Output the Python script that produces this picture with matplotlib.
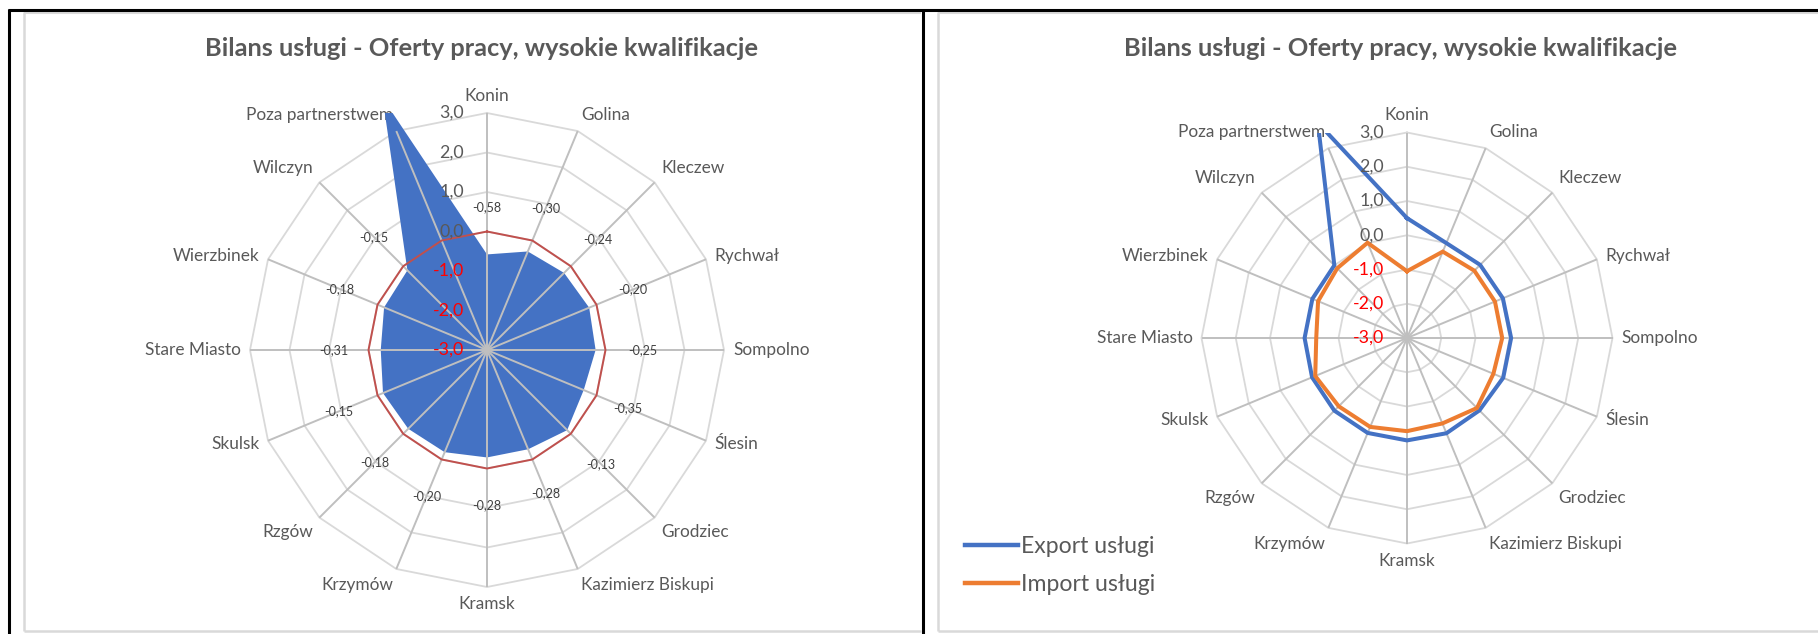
import numpy as np
import matplotlib
matplotlib.use("Agg")
import matplotlib.pyplot as plt
from matplotlib.patches import Rectangle
from matplotlib.lines import Line2D

# ---------------- data ----------------
categories = ["Konin", "Golina", "Kleczew", "Rychwał", "Sompolno", "Ślesin", "Grodziec",
              "Kazimierz Biskupi", "Kramsk", "Krzymów", "Rzgów", "Skulsk", "Stare Miasto",
              "Wierzbinek", "Wilczyn", "Poza partnerstwem"]
balance = [-0.58, -0.30, -0.24, -0.20, -0.25, -0.35, -0.13, -0.28, -0.28, -0.20,
           -0.18, -0.15, -0.31, -0.18, -0.15, 3.90]
balance_labels = ["-0,58", "-0,30", "-0,24", "-0,20", "-0,25", "-0,35", "-0,13", "-0,28",
                  "-0,28", "-0,20", "-0,18", "-0,15", "-0,31", "-0,18", "-0,15", ""]
zero_ref = [0.0] * 16
export_vals = [0.50, 0.00, 0.02, 0.03, 0.04, 0.04, -0.01, 0.01, -0.01, 0.00,
               0.00, 0.00, -0.01, -0.01, 0.00, 3.80]
import_vals = [-1.05, -0.27, -0.22, -0.22, -0.22, -0.27, -0.11, -0.30, -0.28, -0.19,
               -0.18, -0.10, -0.35, -0.19, -0.12, 0.01]
r_ticks = [3.0, 2.0, 1.0, 0.0, -1.0, -2.0, -3.0]
r_tick_labels = ["3,0", "2,0", "1,0", "0,0", "-1,0", "-2,0", "-3,0"]
title_text = "Bilans usługi - Oferty pracy, wysokie kwalifikacje"
legend_labels = ["Export usługi", "Import usługi"]

# ---------------- style ----------------
FONT = "Lato"
plt.rcParams["font.family"] = [FONT, "DejaVu Sans"]
BLUE = "#4472C4"
ORANGE = "#ED7D31"
ZERO_RED = "#C0504D"
TXT = "#595959"
RING = "#D9D9D9"
SPOKE = "#BFBFBF"
RMIN, RMAX_AX = -3.0, 4.4

W, H = 1818, 634
fig = plt.figure(figsize=(W / 100, H / 100), dpi=100)
PX = 0.72  # points per pixel

n = len(categories)
theta = np.arange(n) * 2 * np.pi / n
theta_c = np.append(theta, theta[0])


def closed(v):
    return np.append(np.asarray(v, float), v[0])


def make_radar(cx, cy, unit):
    R = (RMAX_AX - RMIN) * unit
    ax = fig.add_axes([(cx - R) / W, (H - cy - R) / H, 2 * R / W, 2 * R / H],
                      projection="polar")
    ax.set_theta_zero_location("N")
    ax.set_theta_direction(-1)
    ax.set_ylim(RMIN, RMAX_AX)
    ax.grid(False)
    ax.set_xticks([])
    ax.set_yticks([])
    ax.spines["polar"].set_visible(False)
    ax.patch.set_visible(False)
    # polygon rings
    for v in r_ticks:
        if v > RMIN:
            ax.plot(theta_c, [v] * (n + 1), color=RING, lw=1.3, zorder=1)
    # spokes
    for th in theta:
        ax.plot([th, th], [RMIN, r_ticks[0]], color=SPOKE, lw=1.4, zorder=3,
                solid_capstyle="butt")
    # category labels
    off = 9 * PX
    for th, name in zip(theta, categories):
        s, c = np.sin(th), np.cos(th)
        ha = "left" if s > 0.1 else ("right" if s < -0.1 else "center")
        va = "bottom" if c > 0.6 else ("top" if c < -0.6 else "center")
        ax.annotate(name, xy=(th, r_ticks[0]), xytext=(s * off, c * off),
                    textcoords="offset points", ha=ha, va=va, fontsize=12.4,
                    color=TXT, zorder=1.5, annotation_clip=False)
    # radial tick labels
    for v, lab in zip(r_ticks, r_tick_labels):
        ax.annotate(lab, xy=(0, v), xytext=(-23 * PX, 0), textcoords="offset points",
                    ha="right", va="center", fontsize=12.8,
                    color=(TXT if v >= 0 else "#FF0000"), zorder=6,
                    annotation_clip=False)
    # clip area: plot area top at the outer ring top
    ytop = ax.transData.transform((0, r_ticks[0]))[1]
    fy = fig.transFigure.inverted().transform((0, ytop))[1]
    clip = Rectangle((0, 0), 1, fy, transform=fig.transFigure)
    return ax, clip


# ---------------- left chart ----------------
axL, clipL = make_radar(487, 350, 39.5)
f = axL.fill(theta_c, closed(balance), color=BLUE, lw=0, zorder=2)[0]
f.set_clip_path(clipL)
axL.plot(theta_c, closed(zero_ref), color=ZERO_RED, lw=1.4, zorder=4)
for th, v, lab in zip(theta, balance, balance_labels):
    if lab:
        axL.text(th, v + 1.2, lab, ha="center", va="center", fontsize=9,
                 color="#404040", zorder=6)

# ---------------- right chart ----------------
axR, clipR = make_radar(1407, 338, 34.25)
l1 = axR.plot(theta_c, closed(export_vals), color=BLUE, lw=2.9, zorder=5,
              solid_joinstyle="miter")[0]
l2 = axR.plot(theta_c, closed(import_vals), color=ORANGE, lw=2.9, zorder=5,
              solid_joinstyle="miter")[0]
l1.set_clip_path(clipR)
l2.set_clip_path(clipR)

handles = [Line2D([], [], color=BLUE, lw=3.2), Line2D([], [], color=ORANGE, lw=3.2)]
fig.legend(handles, legend_labels, loc="upper left",
           bbox_to_anchor=(965 / W, 1 - 536 / H), frameon=False, fontsize=16.6,
           handlelength=2.3, handletextpad=0.15, labelspacing=0.72,
           borderpad=0, borderaxespad=0, labelcolor=TXT)

# ---------------- titles ----------------
fig.text(481 / W, 1 - 49 / H, title_text, ha="center", va="center", fontsize=18.3,
         fontweight="bold", color=TXT)
fig.text(1401 / W, 1 - 49 / H, title_text, ha="center", va="center", fontsize=18.3,
         fontweight="bold", color=TXT)

# ---------------- frames ----------------
def fline(xs, ys, color, lw):
    fig.add_artist(Line2D([x / W for x in xs], [1 - y / H for y in ys],
                          transform=fig.transFigure, color=color, lw=lw,
                          solid_capstyle="butt"))

fline([24, 921], [12.5, 12.5], RING, 1.5)
fline([24, 24], [12, 631], RING, 1.8)
fline([24, 921], [631, 631], RING, 1.8)
fline([938, W], [12.5, 12.5], RING, 1.5)
fline([938, 938], [12, 631], RING, 1.8)
fline([938, W], [631, 631], RING, 1.8)
fline([8, W], [10, 10], "black", 2.2)
fline([9, 9], [9, H], "black", 2.2)
fline([923, 923], [9, H], "black", 2.2)

fig.savefig("out.png", dpi=100, facecolor="white")
